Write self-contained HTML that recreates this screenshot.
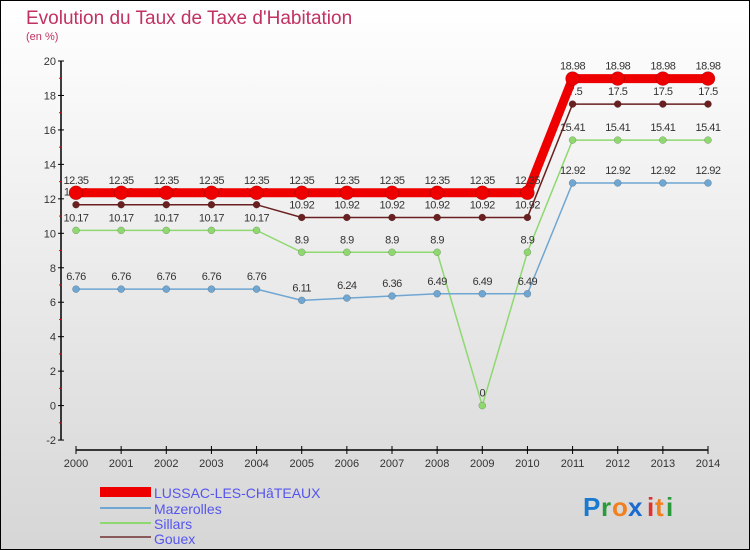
<!DOCTYPE html>
<html><head><meta charset="utf-8"><style>
body{margin:0;width:750px;height:550px;overflow:hidden}
svg{display:block;font-family:"Liberation Sans",sans-serif}
</style></head><body>
<svg id="c" width="750" height="550">
<defs><linearGradient id="bg" x1="0" y1="0" x2="0" y2="1"><stop offset="0" stop-color="#ffffff"/><stop offset="1" stop-color="#d6d6d6"/></linearGradient></defs>
<rect x="0.5" y="0.5" width="749" height="549" fill="url(#bg)" stroke="#000"/>
<text x="26" y="24" font-size="19" fill="#c0325f">Evolution du Taux de Taxe d'Habitation</text>
<text x="26" y="40" font-size="11" fill="#c0325f">(en %)</text>
<g id="axes"></g><g id="series"></g>
<g>
<rect x="100" y="487" width="51" height="10" fill="#e00"/>
<text x="154" y="498" font-size="14" fill="#5555ee">LUSSAC-LES-CHâTEAUX</text>
<rect x="100" y="507" width="51" height="2" fill="#6fa6d2"/>
<text x="154" y="514" font-size="14" fill="#5555ee">Mazerolles</text>
<rect x="100" y="522" width="51" height="2" fill="#8fd870"/>
<text x="154" y="529" font-size="14" fill="#5555ee">Sillars</text>
<rect x="100" y="536" width="51" height="2" fill="#8a5a5a"/>
<text x="154" y="544" font-size="14" fill="#5555ee">Gouex</text>
</g>
<g font-size="26" font-weight="bold">
<text x="583" y="516" fill="#1a7ad0">P</text><text x="601" y="516" fill="#2a9a3a">r</text><text x="612" y="516" fill="#f08020">o</text><text x="628" y="516" fill="#1a6ad0">x</text><text x="647" y="516" fill="#e03030">i</text><text x="655" y="516" fill="#f08020">t</text><text x="666" y="516" fill="#2a9a3a">i</text>
</g>
</svg>
<script>
const years=[2000,2001,2002,2003,2004,2005,2006,2007,2008,2009,2010,2011,2012,2013,2014];
const lussac=[12.35,12.35,12.35,12.35,12.35,12.35,12.35,12.35,12.35,12.35,12.35,18.98,18.98,18.98,18.98];
const mazerolles=[6.76,6.76,6.76,6.76,6.76,6.11,6.24,6.36,6.49,6.49,6.49,12.92,12.92,12.92,12.92];
const sillars=[10.17,10.17,10.17,10.17,10.17,8.9,8.9,8.9,8.9,0,8.9,15.41,15.41,15.41,15.41];
const gouex=[11.66,11.66,11.66,11.66,11.66,10.92,10.92,10.92,10.92,10.92,10.92,17.5,17.5,17.5,17.5];
const yTicks=[-2,0,2,4,6,8,10,12,14,16,18,20];
const NS="http://www.w3.org/2000/svg";
const X=i=>76+i*(632/14);
const Y=v=>405.6-v*17.23;
function mk(t,a,p){const e=document.createElementNS(NS,t);for(const k in a)e.setAttribute(k,a[k]);p.appendChild(e);return e;}
const ax=document.getElementById('axes');
mk('line',{x1:61,y1:Y(20),x2:61,y2:Y(-2),stroke:'#000','stroke-width':1.5},ax);
yTicks.forEach(v=>{mk('line',{x1:58,y1:Y(v),x2:64,y2:Y(v),stroke:'#000'},ax);
 if(v<20) mk('line',{x1:59,y1:Y(v+1),x2:62,y2:Y(v+1),stroke:'#e00'},ax);
 const t=mk('text',{x:56,y:Y(v)+4,'font-size':11,'text-anchor':'end',fill:'#333'},ax);t.textContent=v;
 
 });
mk('line',{x1:X(0),y1:450,x2:X(14),y2:450,stroke:'#000','stroke-width':1.5},ax);
years.forEach((y,i)=>{mk('line',{x1:X(i),y1:446,x2:X(i),y2:454,stroke:'#000'},ax);
 const t=mk('text',{x:X(i),y:467,'font-size':11,'text-anchor':'middle',fill:'#333'},ax);t.textContent=y;
 
 });
const sg=document.getElementById('series');
function draw(data,color,w,r,name){
 const g=mk('g',{},sg);
 
 
 mk('polyline',{points:data.map((v,i)=>X(i)+','+Y(v)).join(' '),fill:'none',stroke:color,'stroke-width':w},g);
 data.forEach((v,i)=>{const c=mk('circle',{cx:X(i),cy:Y(v),r:r,fill:color,stroke:'rgba(0,0,0,0.3)','stroke-width':0.5},g);
  
  
  const t=mk('text',{x:X(i),y:Y(v)-9,'font-size':11,'text-anchor':'middle',fill:'#333','letter-spacing':'-0.5'},g);t.textContent=v;
  
  });
}
draw(sillars,'#8fd870',1.5,3.5,'sillars');
draw(mazerolles,'#6fa6d2',1.5,3.5,'mazerolles');
draw(gouex,'#6a2020',1.5,3.5,'gouex');
draw(lussac,'#ee0000',9,7,'lussac');
</script>
</body></html>
